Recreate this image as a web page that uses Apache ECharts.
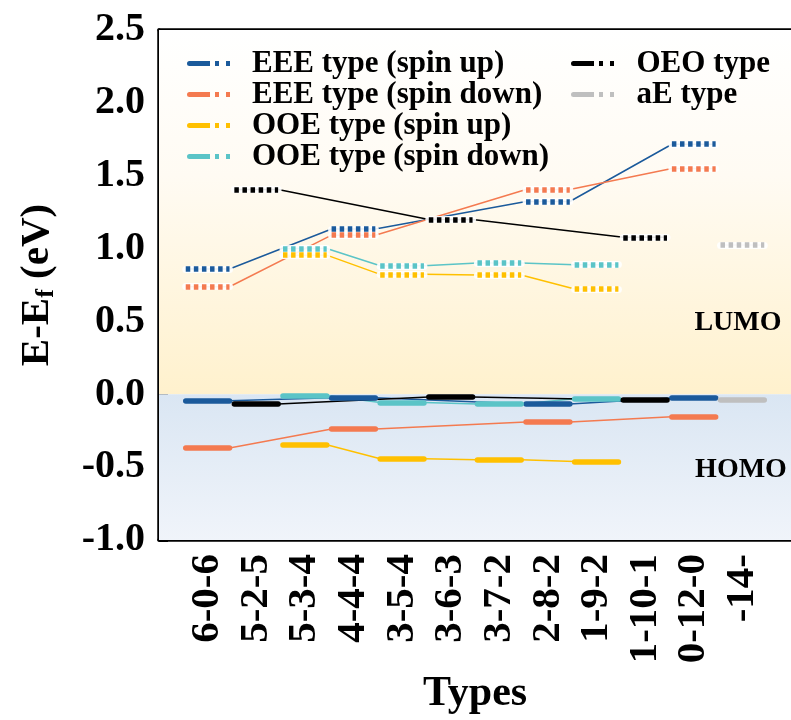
<!DOCTYPE html>
<html>
<head>
<meta charset="utf-8">
<script src="https://cdn.jsdelivr.net/npm/echarts@6/dist/echarts.min.js"></script>
<style>
  html, body { margin: 0; padding: 0; background: #fff; }
  #chart { width: 791px; height: 720px; }
</style>
</head>
<body>
<div id="chart"></div>
<script>
// Configuration types along the x axis
const types = ['6-0-6', '5-2-5', '5-3-4', '4-4-4', '3-5-4', '3-6-3', '3-7-2', '2-8-2', '1-9-2', '1-10-1', '0-12-0', '-14-'];

// EEE type levels (eV)
const eeeCats = ['6-0-6', '4-4-4', '2-8-2', '0-12-0'];
const eeeUpLumo = [0.860, 1.134, 1.323, 1.716];
const eeeUpHomo = [-0.045, -0.024, -0.067, -0.026];
const eeeDownLumo = [0.738, 1.092, 1.405, 1.549];
const eeeDownHomo = [-0.368, -0.238, -0.190, -0.154];

// OOE type levels (eV)
const ooeCats = ['5-3-4', '3-5-4', '3-7-2', '1-9-2'];
const ooeUpLumo = [0.955, 0.823, 0.818, 0.723];
const ooeUpHomo = [-0.346, -0.442, -0.449, -0.462];
const ooeDownLumo = [1.001, 0.882, 0.901, 0.889];
const ooeDownHomo = [-0.008, -0.056, -0.067, -0.031];

// OEO type levels (eV)
const oeoCats = ['5-2-5', '3-6-3', '1-10-1'];
const oeoLumo = [1.405, 1.200, 1.077];
const oeoHomo = [-0.067, -0.019, -0.038];

// aE type levels (eV)
const aeCats = ['-14-'];
const aeLumo = [1.024];
const aeHomo = [-0.038];

const yTicks = [-1.0, -0.5, 0.0, 0.5, 1.0, 1.5, 2.0, 2.5];

const FONT = "'Liberation Serif', 'Times New Roman', serif";
const HALF = 0.45; // half-width of a level bar, in x units

const groups = [
  { name: 'EEE type (spin up)',   color: '#1b5a9b', cats: eeeCats, lumo: eeeUpLumo,   homo: eeeUpHomo },
  { name: 'EEE type (spin down)', color: '#f47a50', cats: eeeCats, lumo: eeeDownLumo, homo: eeeDownHomo },
  { name: 'OOE type (spin up)',   color: '#ffc000', cats: ooeCats, lumo: ooeUpLumo,   homo: ooeUpHomo },
  { name: 'OOE type (spin down)', color: '#5bc4c7', cats: ooeCats, lumo: ooeDownLumo, homo: ooeDownHomo },
  { name: 'OEO type',             color: '#000000', cats: oeoCats, lumo: oeoLumo,     homo: oeoHomo },
  { name: 'aE type',              color: '#bfbfbf', cats: aeCats,  lumo: aeLumo,      homo: aeHomo }
];

const xOf = c => types.indexOf(c) + 1;

function chain(cats, vals) {
  const pts = [];
  cats.forEach((c, i) => {
    const x = xOf(c);
    pts.push([x - HALF, vals[i]]);
    pts.push([x + HALF, vals[i]]);
  });
  return pts;
}
function bars(cats, vals) {
  return cats.map((c, i) => {
    const x = xOf(c);
    return { coords: [[x - HALF, vals[i]], [x + HALF, vals[i]]] };
  });
}

const series = [];

// Background bands: LUMO (above Ef) and HOMO (below Ef)
series.push({
  type: 'line', data: [], silent: true, z: 0,
  markArea: {
    silent: true,
    data: [
      [{ xAxis: 0, yAxis: 2.5, itemStyle: { color: {
          type: 'linear', x: 0, y: 0, x2: 0, y2: 1,
          colorStops: [{ offset: 0, color: '#ffffff' }, { offset: 0.4, color: '#fffbf3' }, { offset: 1, color: '#fff1cd' }]
        } } },
       { xAxis: 13, yAxis: 0 }],
      [{ xAxis: 0, yAxis: 0, itemStyle: { color: {
          type: 'linear', x: 0, y: 0, x2: 0, y2: 1,
          colorStops: [{ offset: 0, color: '#dae6f3' }, { offset: 1, color: '#f0f4fa' }]
        } } },
       { xAxis: 13, yAxis: -1 }]
    ]
  }
});

groups.forEach(g => {
  // thin connectors
  [g.lumo, g.homo].forEach(vals => {
    series.push({
      name: g.name, type: 'line', data: chain(g.cats, vals),
      showSymbol: false, symbol: 'none', z: 2,
      lineStyle: { color: g.color, width: 1.5 },
      itemStyle: { color: g.color }
    });
  });
});

groups.forEach(g => {
  // white backing under dotted LUMO bars
  series.push({
    name: g.name, type: 'lines', coordinateSystem: 'cartesian2d', z: 3,
    data: bars(g.cats, g.lumo),
    lineStyle: { color: '#ffffff', width: 7, opacity: 0.9, cap: 'round' },
    itemStyle: { color: g.color }
  });
  // dotted LUMO bars
  series.push({
    name: g.name, type: 'lines', coordinateSystem: 'cartesian2d', z: 4,
    data: bars(g.cats, g.lumo),
    lineStyle: { color: g.color, width: 5.5, opacity: 1, type: [4.5, 3.6], cap: 'butt' },
    itemStyle: { color: g.color }
  });
  // solid HOMO bars
  series.push({
    name: g.name, type: 'lines', coordinateSystem: 'cartesian2d', z: 4,
    data: bars(g.cats, g.homo),
    lineStyle: { color: g.color, width: 5.5, opacity: 1, type: 'solid', cap: 'round' },
    itemStyle: { color: g.color }
  });
});

const legendIcon = 'path://M2.5,0H23V5H2.5A2.5,2.5,0,0,1,2.5,0Z M28,0H32V5H28Z M39,0H43V5H39Z';
const legendText = { fontFamily: FONT, fontWeight: 'bold', fontSize: 31, color: '#000', lineHeight: 31, padding: [0, 0, 0, 17] };

function legendData(list) {
  return list.map(g => ({ name: g.name, icon: legendIcon, itemStyle: { color: g.color } }));
}

const chart = echarts.init(document.getElementById('chart'), null, { renderer: 'canvas' });
chart.setOption({
  animation: false,
  backgroundColor: '#ffffff',
  grid: { left: 159, top: 30, width: 637, height: 511, containLabel: false },
  legend: [
    { orient: 'vertical', left: 182, top: 43, itemWidth: 43, itemHeight: 5, itemGap: 0,
      selectedMode: false, textStyle: legendText, data: legendData(groups.slice(0, 4)) },
    { orient: 'vertical', left: 566, top: 43, itemWidth: 44, itemHeight: 5, itemGap: 0,
      selectedMode: false, textStyle: legendText, data: legendData(groups.slice(4)) }
  ],
  xAxis: [{
    type: 'value', min: 0, max: 13, interval: 1,
    name: 'Types', nameLocation: 'middle', nameGap: 133,
    nameTextStyle: { fontFamily: FONT, fontWeight: 'bold', fontSize: 42, color: '#000' },
    axisLine: { show: true, onZero: false, lineStyle: { color: '#000', width: 3.5 } },
    axisTick: { show: true, inside: true, length: 8, lineStyle: { color: '#000', width: 3 } },
    splitLine: { show: false },
    axisLabel: {
      rotate: 90, margin: 14, fontFamily: FONT, fontWeight: 'bold', fontSize: 41, color: '#000',
      formatter: v => (v >= 1 && v <= types.length ? types[v - 1] : '')
    }
  }, {
    type: 'value', position: 'top', min: 0, max: 13,
    axisLine: { show: true, onZero: false, lineStyle: { color: '#000', width: 3.5 } },
    axisTick: { show: false }, axisLabel: { show: false }, splitLine: { show: false }
  }],
  yAxis: [{
    type: 'value', min: yTicks[0], max: yTicks[yTicks.length - 1], interval: 0.5,
    name: 'E-E{sub|f} (eV)', nameLocation: 'middle', nameRotate: 90, nameGap: 100,
    nameTextStyle: {
      fontFamily: FONT, fontWeight: 'bold', fontSize: 41, color: '#000',
      rich: { sub: { fontFamily: FONT, fontWeight: 'bold', fontSize: 26, color: '#000', padding: [18, 0, 0, 0] } }
    },
    axisLine: { show: true, onZero: false, lineStyle: { color: '#000', width: 3.5 } },
    axisTick: { show: true, inside: true, length: 9, lineStyle: { color: '#000', width: 3 } },
    minorTick: { show: true, splitNumber: 2, length: 5, lineStyle: { color: '#000', width: 3 } },
    splitLine: { show: false },
    axisLabel: {
      margin: 14, fontFamily: FONT, fontWeight: 'bold', fontSize: 40, color: '#000',
      formatter: v => v.toFixed(1)
    }
  }],
  graphic: [
    { type: 'text', x: 738, y: 323, z: 10,
      style: { text: 'LUMO', font: "bold 28px 'Liberation Serif', serif", fill: '#000', align: 'center', verticalAlign: 'middle', textAlign: 'center', textVerticalAlign: 'middle' } },
    { type: 'text', x: 741, y: 470, z: 10,
      style: { text: 'HOMO', font: "bold 28px 'Liberation Serif', serif", fill: '#000', align: 'center', verticalAlign: 'middle', textAlign: 'center', textVerticalAlign: 'middle' } }
  ],
  series: series
});
</script>
</body>
</html>
